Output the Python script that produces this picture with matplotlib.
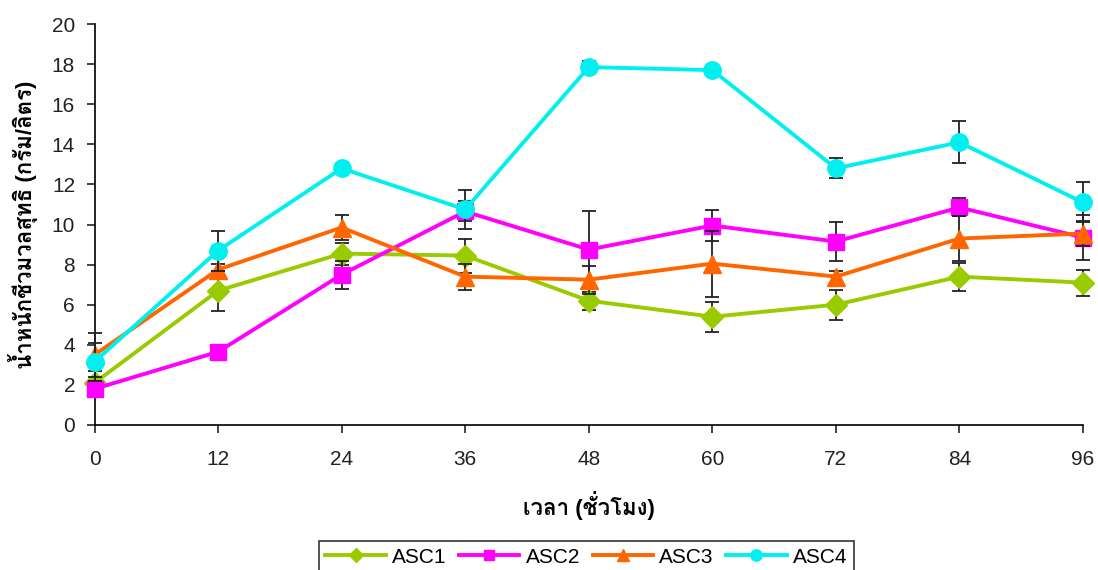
import numpy as np
import matplotlib
matplotlib.use("Agg")
import matplotlib.pyplot as plt
from matplotlib import font_manager
from matplotlib.ft2font import FT2Font

hours = [0, 12, 24, 36, 48, 60, 72, 84, 96]
asc1 = [2.1, 6.7, 8.55, 8.45, 6.2, 5.4, 6.0, 7.4, 7.1]
asc2 = [1.8, 3.65, 7.5, 10.65, 8.75, 9.95, 9.15, 10.85, 9.35]
asc3 = [3.5, 7.75, 9.85, 7.4, 7.25, 8.05, 7.4, 9.3, 9.55]
asc4 = [3.15, 8.7, 12.8, 10.75, 17.85, 17.7, 12.8, 14.1, 11.1]
err1 = [0.6, 1.0, 0.55, 0.85, 0.45, 0.75, 0.75, 0.7, 0.65]
err2 = [0.4, 0.3, 0.7, 0.5, 1.9, 0.75, 0.95, 0.45, 1.1]
err3 = [1.1, 0.3, 0.6, 0.65, 0.7, 1.65, 0.3, 1.1, 0.6]
err4 = [0.95, 1.0, 0.2, 0.95, 0.3, 0.15, 0.5, 1.05, 1.0]
labels = ['ASC1', 'ASC2', 'ASC3', 'ASC4']


def find_thai_font():
    # look for any installed font that actually has Thai glyphs
    for f in font_manager.fontManager.ttflist:
        try:
            cmap = FT2Font(f.fname).get_charmap()
        except Exception:
            continue
        if 0x0E19 in cmap and 0x0E33 in cmap:
            return f.name
    return None


thai = find_thai_font()
fams = ['Liberation Sans']
if thai:
    fams.append(thai)
fams.append('DejaVu Sans')
plt.rcParams['font.family'] = fams

fig = plt.figure(figsize=(10.98, 5.70), dpi=100)
ax = fig.add_axes([94.5 / 1098, 1 - 425 / 570, (1083 - 94.5) / 1098, (425 - 24) / 570])

series = [
    (asc1, err1, '#99CC00', 'D', 11),
    (asc2, err2, '#FF00FF', 's', 11.5),
    (asc3, err3, '#FF6600', '^', 13),
    (asc4, err4, '#00F0F0', 'o', 12.5),
]

for i, (vals, err, col, mk, ms) in enumerate(series):
    ax.errorbar(hours, vals, yerr=err, fmt='none', ecolor='#222222', elinewidth=1.3,
                capsize=5, capthick=1.3, zorder=2 + i * 2)
    ax.plot(hours, vals, color=col, marker=mk, markersize=ms, linewidth=2.8,
            label=labels[i], zorder=3 + i * 2)

ax.set_xlim(0, 96)
ax.set_ylim(0, 20)
ax.set_xticks(hours)
ax.set_yticks(np.arange(0, 21, 2))
ax.tick_params(labelsize=15, direction='out', length=6, width=1.2, colors='#222222')
ax.tick_params(axis='x', pad=12)
ax.tick_params(axis='y', pad=8)
ax.spines['top'].set_visible(False)
ax.spines['right'].set_visible(False)
ax.spines['left'].set_linewidth(1.2)
ax.spines['bottom'].set_linewidth(1.2)
for sp in ax.spines.values():
    sp.set_clip_on(False)
for ln in ax.lines:
    ln.set_clip_on(False)
for coll in ax.collections:
    coll.set_clip_on(False)

ax.set_xlabel('เวลา (ชั่วโมง)', fontsize=16, fontweight='bold', labelpad=16)
ax.set_ylabel('น้ำหนักชีวมวลสุทธิ (กรัม/ลิตร)', fontsize=16, fontweight='bold', labelpad=10)

leg = fig.legend(loc='upper center', bbox_to_anchor=(0.534, 1 - 531 / 570), ncol=4,
                 fontsize=15, frameon=True, fancybox=False, edgecolor='black',
                 handlelength=2.9, handletextpad=0.3, columnspacing=0.6,
                 borderpad=0.3, markerscale=0.65)
leg.get_frame().set_linewidth(1.2)

fig.savefig('out.png', dpi=100)
